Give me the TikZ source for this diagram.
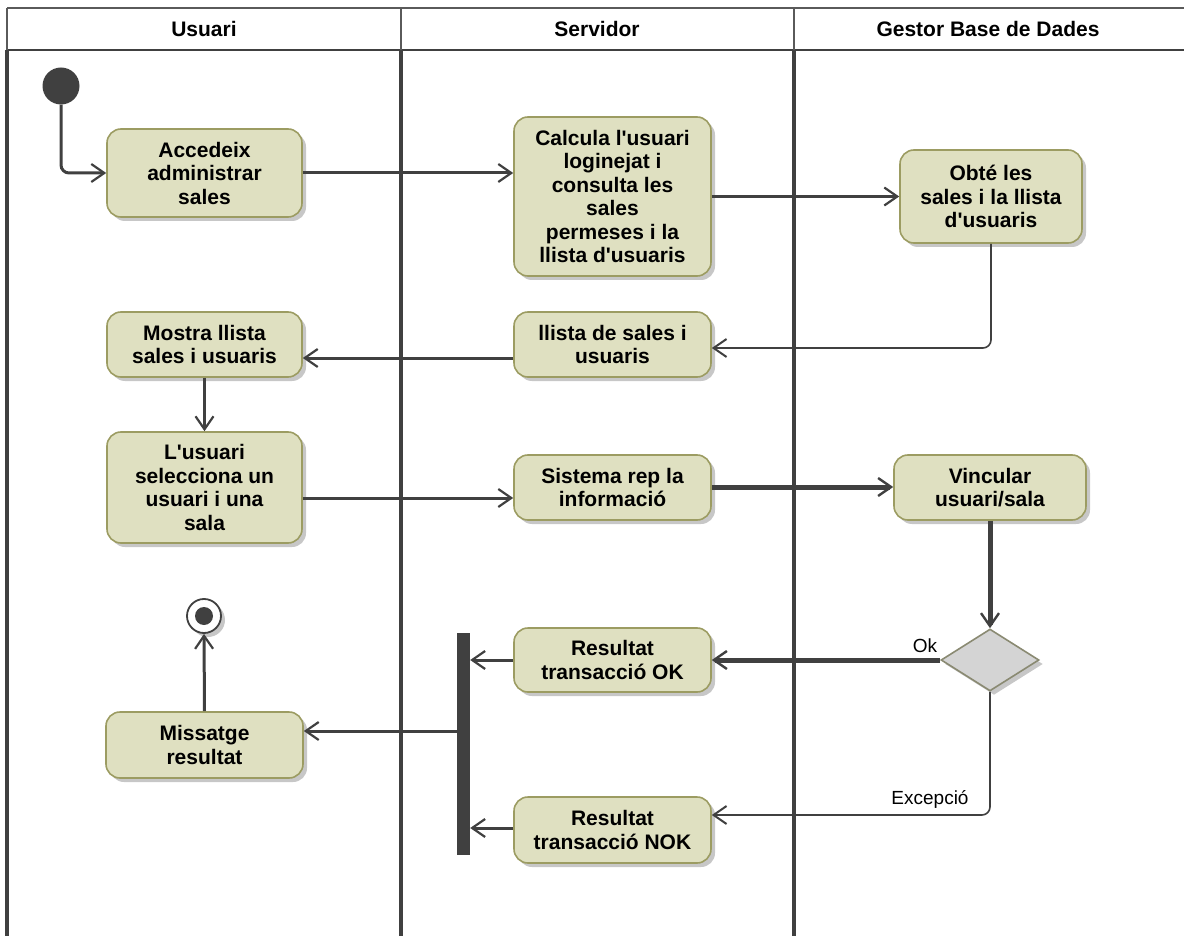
\documentclass[tikz,border=0pt]{standalone}
\usepackage{fontspec}
\setmainfont{Liberation Sans}
\usetikzlibrary{arrows.meta,shapes.geometric,shadows,calc}
\definecolor{ink}{HTML}{404040}
\definecolor{frame}{HTML}{5A5A5A}
\definecolor{actfill}{HTML}{DFE0C1}
\definecolor{actborder}{HTML}{9C9C62}
\definecolor{decfill}{HTML}{D4D4D4}
\definecolor{decborder}{HTML}{8A8A72}
\newcommand{\apos}{\textquotesingle}
\begin{document}
\begin{tikzpicture}[x=1pt,y=-1pt,
  shade/.style={drop shadow={shadow xshift=4pt,shadow yshift=-4pt,fill=black,opacity=.22}},
  act/.style={rectangle,rounded corners=14pt,draw=actborder,fill=actfill,line width=1.6pt,
    align=center,inner sep=0pt,text=black,font=\bfseries\fontsize{21}{23.5}\selectfont,shade},
  lanehead/.style={font=\bfseries\fontsize{21}{24}\selectfont,text=black},
  guard/.style={font=\fontsize{19}{22}\selectfont,text=black},
  flow/.style={draw=ink,line width=3pt,-{Straight Barb[length=13pt,width=18pt,line width=2.2pt 0]}},
  thinflow/.style={draw=ink,line width=1.6pt,-{Straight Barb[length=13pt,width=18pt,line width=2pt 0]}},
  boldflow/.style={draw=ink,line width=5pt,-{Straight Barb[length=13pt,width=18pt,line width=2.4pt 0]}}
]
\useasboundingbox (0,0) rectangle (1184,936);

% swimlane frame
\draw[frame,line width=2pt] (7,8) -- (1184,8);
\draw[ink,line width=2.5pt] (7,50) -- (1184,50);
\foreach \lx in {7,401,794}{
  \draw[frame,line width=2pt] (\lx,8) -- (\lx,50);
  \draw[ink,line width=4pt] (\lx,50) -- (\lx,936);
}
\node[lanehead] (hUsuari) at (204,29) {Usuari};
\node[lanehead] (hServidor) at (597,29) {Servidor};
\node[lanehead] (hGestor) at (988,29) {Gestor Base de Dades};

% activity nodes
\node[circle,fill=ink,minimum size=37pt,inner sep=0pt] (init) at (61,86) {};
\node[act,minimum width=195pt,minimum height=88pt] (acc) at (204.5,173)
  {Accedeix\\administrar\\sales};
\node[act,minimum width=197pt,minimum height=159pt] (calc) at (612.5,196.5)
  {Calcula l\apos usuari\\loginejat i\\consulta les\\sales\\permeses i la\\llista d\apos usuaris};
\node[act,minimum width=182pt,minimum height=93pt] (obte) at (991,196.5)
  {Obté les\\sales i la llista\\d\apos usuaris};
\node[act,minimum width=195pt,minimum height=65pt] (mostra) at (204.5,344.5)
  {Mostra llista\\sales i usuaris};
\node[act,minimum width=197pt,minimum height=65pt] (llista) at (612.5,344.5)
  {llista de sales i\\usuaris};
\node[act,minimum width=195pt,minimum height=111pt] (selec) at (204.5,487.5)
  {L\apos usuari\\selecciona un\\usuari i una\\sala};
\node[act,minimum width=197pt,minimum height=65pt] (sist) at (612.5,487.5)
  {Sistema rep la\\informació};
\node[act,minimum width=192pt,minimum height=65pt] (vinc) at (990,487.5)
  {Vincular\\usuari/sala};
\node[diamond,draw=decborder,fill=decfill,line width=1.6pt,inner sep=0pt,
  minimum width=98pt,minimum height=62pt,shade] (dec) at (990,660) {};
\node[act,minimum width=197pt,minimum height=64pt] (ok) at (612.5,660)
  {Resultat\\transacció OK};
\node[act,minimum width=197pt,minimum height=66pt] (nok) at (612.5,830)
  {Resultat\\transacció NOK};
\node[rectangle,fill=ink,minimum width=13pt,minimum height=222pt,inner sep=0pt] (fork) at (463.5,744) {};
\node[act,minimum width=197pt,minimum height=66pt] (miss) at (204.5,745)
  {Missatge\\resultat};
\node[circle,draw=ink,fill=white,line width=1.8pt,minimum size=34pt,inner sep=0pt,shade] (final) at (204,616) {};
\node[circle,fill=ink,minimum size=18pt,inner sep=0pt] (finaldot) at (final.center) {};

% control flows
\draw[flow,rounded corners=8pt] (init.south) |- (acc.west);
\draw[flow] (acc.east) -- (acc.east -| calc.west);
\draw[flow] (calc.east) -- (calc.east -| obte.west);
\draw[thinflow,rounded corners=8pt] (obte.south) |- (llista.east |- 0,348);
\draw[flow] (llista.west |- 0,358) -- (mostra.east |- 0,358);
\draw[flow] (mostra.south) -- (selec.north);
\draw[flow] (selec.east |- 0,498) -- (sist.west |- 0,498);
\draw[boldflow] (sist.east |- 0,487) -- (vinc.west |- 0,487);
\draw[boldflow] (vinc.south) -- (dec.north);
\draw[boldflow] (dec.west) -- (ok.east);
\draw[thinflow,rounded corners=8pt] (dec.south) |- (nok.east |- 0,815);
\draw[flow] (ok.west) -- (fork.east |- ok.west);
\draw[flow] (nok.west |- 0,828) -- (fork.east |- 0,828);
\draw[flow] (fork.west |- 0,731) -- (miss.east |- 0,731);
\draw[flow] (miss.north) -- (final.south);

% guards
\node[guard] (gOk) at (925,646) {Ok};
\node[guard] (gExc) at (930,799) {Excepció};
\end{tikzpicture}
\end{document}
